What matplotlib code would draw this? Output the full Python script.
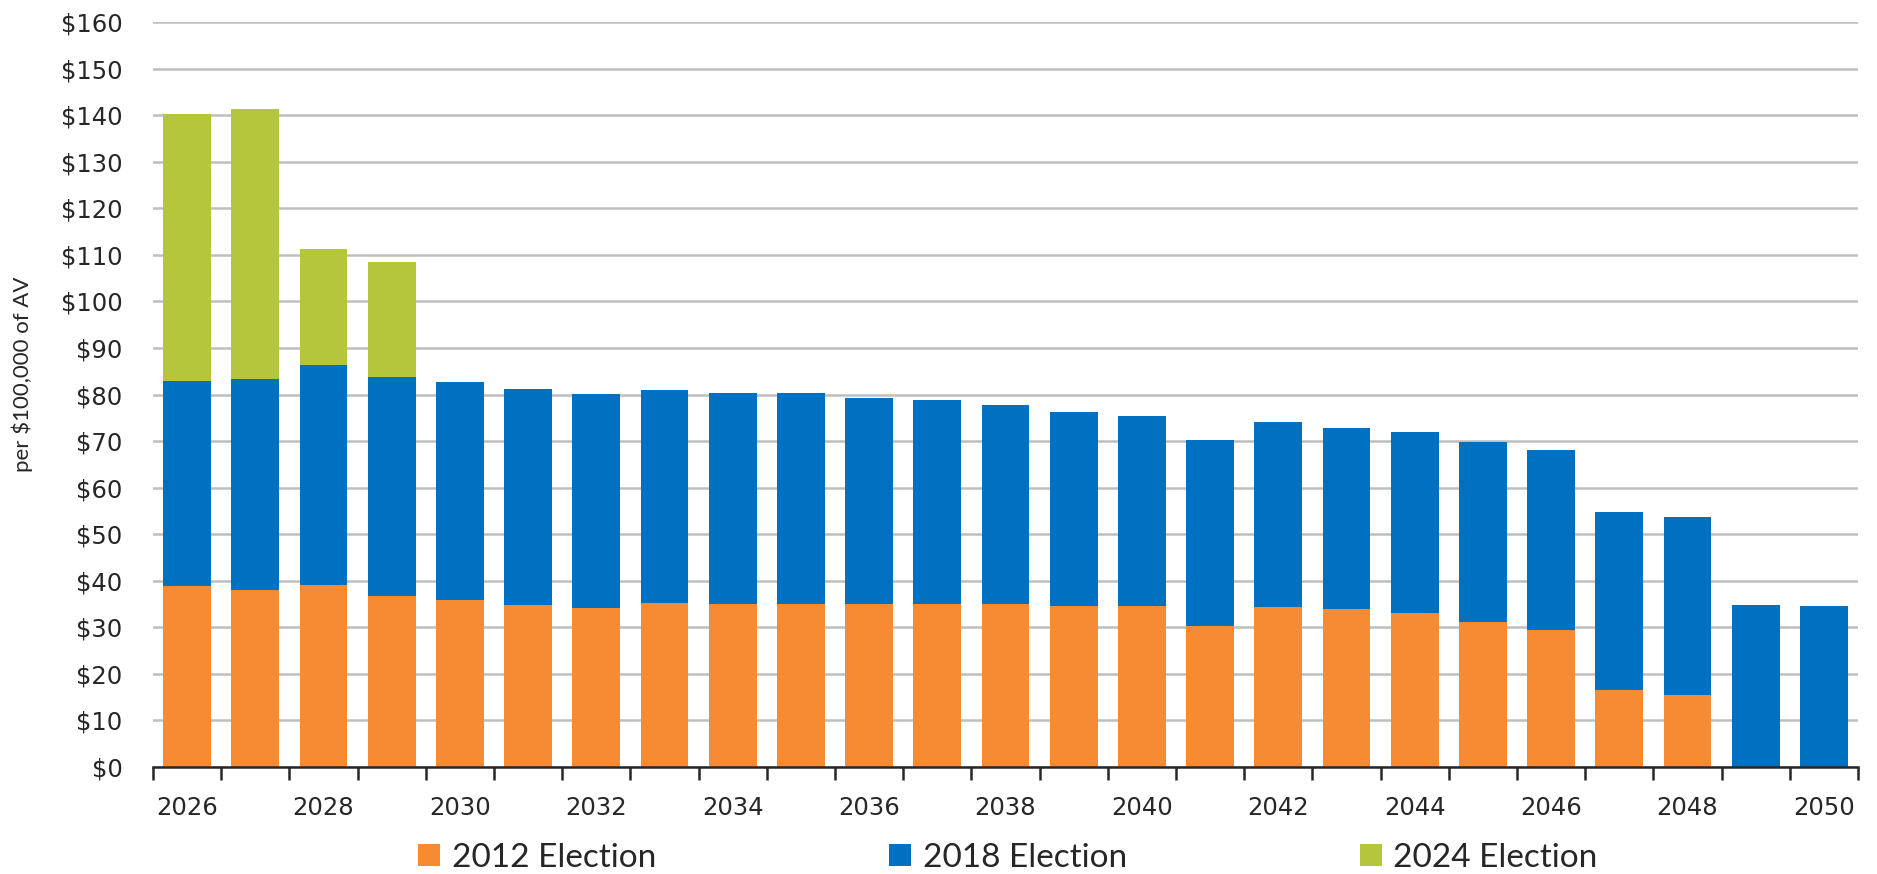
import matplotlib
matplotlib.use("Agg")
import matplotlib.pyplot as plt
from matplotlib.patches import Patch
import numpy as np

# values ($ per $100,000 of AV)
years = list(range(2026, 2051))
e2012 = [38.8, 38.1, 39.1, 36.7, 35.8, 34.8, 34.1, 35.2, 35.0, 35.1, 35.1, 35.1, 35.0,
         34.6, 34.6, 30.3, 34.3, 33.9, 33.0, 31.1, 29.4, 16.5, 15.4, 0, 0]
e2018_top = [82.9, 83.4, 86.4, 83.7, 82.7, 81.2, 80.2, 81.0, 80.4, 80.3, 79.2, 78.8, 77.7,
             76.3, 75.4, 70.2, 74.1, 72.9, 71.9, 69.8, 68.0, 54.8, 53.6, 34.7, 34.5]
e2024_top = [140.3, 141.4, 111.3, 108.5]
series_names = ["2012 Election", "2018 Election", "2024 Election"]
colors = ["#F68B33", "#0070C0", "#B5C63C"]

e2012 = np.array(e2012)
e2018 = np.array(e2018_top) - e2012
e2024 = np.zeros(len(years))
e2024[:len(e2024_top)] = np.array(e2024_top) - np.array(e2018_top[:len(e2024_top)])

narrow = ["Liberation Sans Narrow", "DejaVu Sans"]
plain = ["Lato", "DejaVu Sans"]

fig = plt.figure(figsize=(18.77, 8.74), dpi=100)
ax = fig.add_axes([153 / 1877, 1 - 767 / 874, (1858 - 153) / 1877, (767 - 22) / 874])

x = np.arange(len(years))
w = 0.70
ax.bar(x, e2012, w, color=colors[0], zorder=3)
ax.bar(x, e2018, w, bottom=e2012, color=colors[1], zorder=3)
ax.bar(x, e2024, w, bottom=e2012 + e2018, color=colors[2], zorder=3)

ax.set_xlim(-0.5, len(years) - 0.5)
ax.set_ylim(0, 160)
ax.set_yticks(np.arange(0, 161, 10))
ax.set_yticklabels(["$%d" % v for v in range(0, 161, 10)], family=narrow, fontsize=17.5,
                   color="#262626")
ax.yaxis.grid(True, color="#BFBFBF", linewidth=1.8, zorder=0)
ax.tick_params(axis="y", length=0, pad=22)

# ticks at category boundaries, labels on every other bar
ax.set_xticks(np.arange(-0.5, len(years), 1.0))
ax.set_xticklabels([])
ax.tick_params(axis="x", which="major", length=9, width=1.8, color="#262626")
ax.set_xticks(x[::2], minor=True)
ax.set_xticklabels([str(y) for y in years[::2]], minor=True, family=narrow, fontsize=17.5,
                   color="#262626")
ax.tick_params(axis="x", which="minor", length=0, pad=21)

for s in ["top", "right", "left"]:
    ax.spines[s].set_visible(False)
ax.spines["bottom"].set_linewidth(1.8)
ax.spines["bottom"].set_color("#262626")
ax.spines["bottom"].set_zorder(4)

fig.text(22 / 1877, 1 - 374 / 874, "per $100,000 of AV", rotation=90, ha="center",
         va="center", family=plain, fontsize=16, color="#262626")

handles = [Patch(facecolor=c, edgecolor="none") for c in colors]
fig.legend(handles, series_names, loc="center", bbox_to_anchor=(1008 / 1877, 1 - 858 / 874),
           ncol=3, frameon=False, prop={"family": plain, "size": 24},
           handlelength=0.65, handleheight=0.65, handletextpad=0.35, columnspacing=7.0,
           labelcolor="#262626")

fig.savefig("out.png", dpi=100)
